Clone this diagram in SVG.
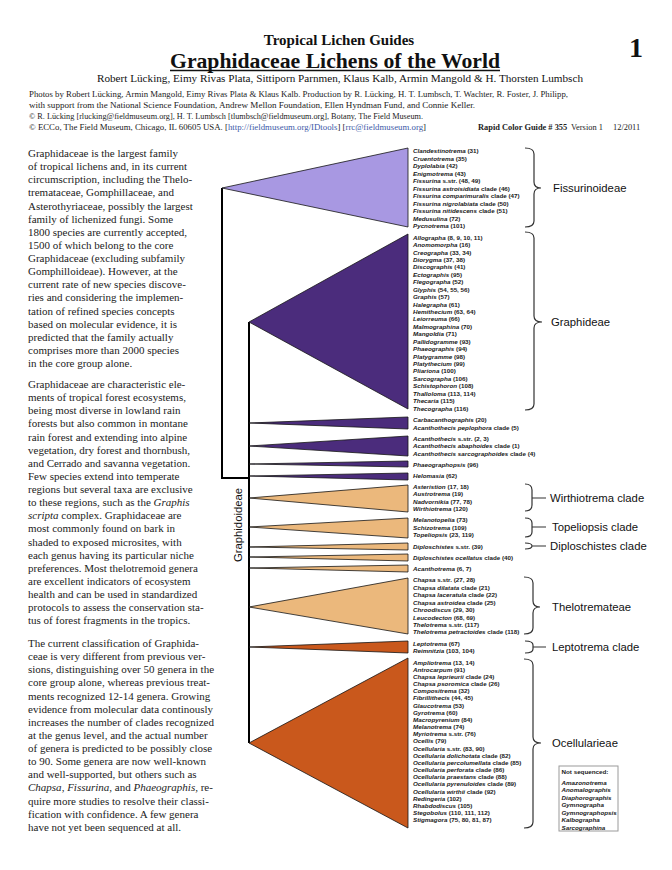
<svg xmlns="http://www.w3.org/2000/svg" width="672" height="870" viewBox="0 0 672 870">
<style>
.hd{font-family:"Liberation Serif","Times New Roman",serif;fill:#111}
.sm{font-family:"Liberation Serif","Times New Roman",serif;font-size:8.4px;fill:#222}
.body{font-family:"Liberation Serif","Times New Roman",serif;font-size:11px;fill:#222}
.g{font-family:"Liberation Sans",Arial,sans-serif;font-size:6.25px;font-weight:bold;fill:#1a1a1a}
.i{font-style:italic}
.cl{font-family:"Liberation Sans",Arial,sans-serif;font-size:11.3px;fill:#111}
.br{fill:none;stroke:#333;stroke-width:1.2}
.tree{stroke:#000;stroke-width:2;fill:none}
.tri{stroke:#151515;stroke-width:0.8;stroke-linejoin:miter}
.lav{fill:#a898e2}
.pur{fill:#4b2c7c}
.lor{fill:#ebb87c}
.dor{fill:#c9581c}
.lnk{fill:#3d5aa8}
</style>
<rect width="672" height="870" fill="#fff"/>

<g id="header">
<text class="hd" x="339" y="45" font-size="15" font-weight="bold" text-anchor="middle">Tropical Lichen Guides</text>
<text class="hd" x="335" y="67.5" font-size="21.6" font-weight="bold" text-anchor="middle" textLength="330" lengthAdjust="spacingAndGlyphs">Graphidaceae Lichens of the World</text>
<line x1="170" y1="70.5" x2="500" y2="70.5" stroke="#111" stroke-width="1.6"/>
<text class="hd" x="629" y="57" font-size="28" font-weight="bold">1</text>
<text class="hd" x="97" y="82" font-size="11.3" textLength="486" lengthAdjust="spacingAndGlyphs">Robert Lücking, Eimy Rivas Plata, Sittiporn Parnmen, Klaus Kalb, Armin Mangold &amp; H. Thorsten Lumbsch</text>
<text class="sm" x="29" y="96.5" textLength="539" lengthAdjust="spacingAndGlyphs">Photos by Robert Lücking, Armin Mangold, Eimy Rivas Plata &amp; Klaus Kalb.  Production by R. Lücking, H. T. Lumbsch, T. Wachter, R. Foster, J. Philipp,</text>
<text class="sm" x="29" y="107.5" textLength="446" lengthAdjust="spacingAndGlyphs">with support from the National Science Foundation, Andrew Mellon Foundation, Ellen Hyndman Fund, and Connie Keller.</text>
<text class="sm" x="29" y="118.5" textLength="394" lengthAdjust="spacingAndGlyphs">© R. Lücking [rlucking@fieldmuseum.org], H. T. Lumbsch [tlumbsch@fieldmuseum.org], Botany, The Field Museum.</text>
<text class="sm" x="29" y="129.5" textLength="397" lengthAdjust="spacingAndGlyphs">© ECCo, The Field Museum, Chicago, IL 60605  USA. [<tspan class="lnk">http://fieldmuseum.org/IDtools</tspan>] [<tspan class="lnk">rrc@fieldmuseum.org</tspan>]</text>
<text class="sm" x="478" y="129.5" font-weight="bold" font-size="8.6">Rapid Color Guide # 355</text>
<text class="sm" x="571" y="129.5">Version 1</text>
<text class="sm" x="613" y="129.5">12/2011</text>
</g>

<g id="intro-text" class="body">
<text>
<tspan x="28" y="157">Graphidaceae is the largest family</tspan>
<tspan x="28" y="170.1">of tropical lichens and, in its current</tspan>
<tspan x="28" y="183.3">circumscription, including the Thelo-</tspan>
<tspan x="28" y="196.4">tremataceae, Gomphillaceae, and</tspan>
<tspan x="28" y="209.5">Asterothyriaceae, possibly the largest</tspan>
<tspan x="28" y="222.7">family of lichenized fungi. Some</tspan>
<tspan x="28" y="235.8">1800 species are currently accepted,</tspan>
<tspan x="28" y="248.9">1500 of which belong to the core</tspan>
<tspan x="28" y="262">Graphidaceae (excluding subfamily</tspan>
<tspan x="28" y="275.2">Gomphilloideae). However, at the</tspan>
<tspan x="28" y="288.3">current rate of new species discove-</tspan>
<tspan x="28" y="301.4">ries and considering the implemen-</tspan>
<tspan x="28" y="314.6">tation of refined species concepts</tspan>
<tspan x="28" y="327.7">based on molecular evidence, it is</tspan>
<tspan x="28" y="340.8">predicted that the family actually</tspan>
<tspan x="28" y="354">comprises more than 2000 species</tspan>
<tspan x="28" y="367.1">in the core group alone.</tspan>
</text>
<text>
<tspan x="28" y="388">Graphidaceae are characteristic ele-</tspan>
<tspan x="28" y="401.1">ments of tropical forest ecosystems,</tspan>
<tspan x="28" y="414.3">being most diverse in lowland rain</tspan>
<tspan x="28" y="427.4">forests but also common in montane</tspan>
<tspan x="28" y="440.5">rain forest and extending into alpine</tspan>
<tspan x="28" y="453.7">vegetation, dry forest and thornbush,</tspan>
<tspan x="28" y="466.8">and Cerrado and savanna vegetation.</tspan>
<tspan x="28" y="479.9">Few species extend into temperate</tspan>
<tspan x="28" y="493">regions but several taxa are exclusive</tspan>
<tspan x="28" y="506.2">to these regions, such as the <tspan class="i">Graphis</tspan></tspan>
<tspan x="28" y="519.3"><tspan class="i">scripta</tspan> complex. Graphidaceae are</tspan>
<tspan x="28" y="532.4">most commonly found on bark in</tspan>
<tspan x="28" y="545.6">shaded to exposed microsites, with</tspan>
<tspan x="28" y="558.7">each genus having its particular niche</tspan>
<tspan x="28" y="571.8">preferences. Most thelotremoid genera</tspan>
<tspan x="28" y="585">are excellent indicators of ecosystem</tspan>
<tspan x="28" y="598.1">health and can be used in standardized</tspan>
<tspan x="28" y="611.2">protocols to assess the conservation sta-</tspan>
<tspan x="28" y="624.3">tus of forest fragments in the tropics.</tspan>
</text>
<text>
<tspan x="28" y="647">The current classification of Graphida-</tspan>
<tspan x="28" y="660.1">ceae is very different from previous ver-</tspan>
<tspan x="28" y="673.3">sions, distinguishing over 50 genera in the</tspan>
<tspan x="28" y="686.4">core group alone, whereas previous treat-</tspan>
<tspan x="28" y="699.5">ments recognized 12-14 genera. Growing</tspan>
<tspan x="28" y="712.7">evidence from molecular data continously</tspan>
<tspan x="28" y="725.8">increases the number of clades recognized</tspan>
<tspan x="28" y="738.9">at the genus level, and the actual number</tspan>
<tspan x="28" y="752">of genera is predicted to be possibly close</tspan>
<tspan x="28" y="765.2">to 90. Some genera are now well-known</tspan>
<tspan x="28" y="778.3">and well-supported, but others such as</tspan>
<tspan x="28" y="791.4"><tspan class="i">Chapsa</tspan>, <tspan class="i">Fissurina</tspan>, and <tspan class="i">Phaeographis</tspan>, re-</tspan>
<tspan x="28" y="804.6">quire more studies to resolve their classi-</tspan>
<tspan x="28" y="817.7">fication with confidence. A few genera</tspan>
<tspan x="28" y="830.8">have not yet been sequenced at all.</tspan>
</text>
</g>

<g id="connectors" class="tree">
<polyline points="222,188 222,478 249,478"/>
<line x1="249" y1="322" x2="249" y2="743"/>
</g>

<g id="graphidoideae-label">
<text class="cl" transform="translate(241.5,525) rotate(-90)" text-anchor="middle" font-size="11.7">Graphidoideae</text>
</g>

<g id="fissurinoideae">
<polygon class="tri lav" points="222,188 408,148 408,227"/>
<g class="g">
<text x="413" y="153"><tspan class="i">Clandestinotrema</tspan> (31)</text>
<text x="413" y="160.5"><tspan class="i">Cruentotrema</tspan> (35)</text>
<text x="413" y="168"><tspan class="i">Dyplolabia</tspan> (42)</text>
<text x="413" y="175.5"><tspan class="i">Enigmotrema</tspan> (43)</text>
<text x="413" y="183"><tspan class="i">Fissurina</tspan> s.str. (48, 49)</text>
<text x="413" y="190.5"><tspan class="i">Fissurina astroisidiata</tspan> clade (46)</text>
<text x="413" y="198"><tspan class="i">Fissurina comparimuralis</tspan> clade (47)</text>
<text x="413" y="205.5"><tspan class="i">Fissurina nigrolabiata</tspan> clade (50)</text>
<text x="413" y="213"><tspan class="i">Fissurina nitidescens</tspan> clade (51)</text>
<text x="413" y="220.5"><tspan class="i">Medusulina</tspan> (72)</text>
<text x="413" y="228"><tspan class="i">Pycnotrema</tspan> (101)</text>
</g>
<path class="br" d="M525,148 Q534,148 534,154 L534,182 Q534,188 541,188 Q534,188 534,194 L534,221 Q534,227 525,227"/>
<text class="cl" x="553" y="192">Fissurinoideae</text>
</g>

<g id="graphideae">
<polygon class="tri pur" points="249,322 408,234 408,409"/>
<g class="g">
<text x="413" y="239.6"><tspan class="i">Allographa</tspan> (8, 9, 10, 11)</text>
<text x="413" y="247"><tspan class="i">Anomomorpha</tspan> (16)</text>
<text x="413" y="254.5"><tspan class="i">Creographa</tspan> (33, 34)</text>
<text x="413" y="261.9"><tspan class="i">Diorygma</tspan> (37, 38)</text>
<text x="413" y="269.3"><tspan class="i">Discographis</tspan> (41)</text>
<text x="413" y="276.8"><tspan class="i">Ectographis</tspan> (95)</text>
<text x="413" y="284.2"><tspan class="i">Flegographa</tspan> (52)</text>
<text x="413" y="291.6"><tspan class="i">Glyphis</tspan> (54, 55, 56)</text>
<text x="413" y="299"><tspan class="i">Graphis</tspan> (57)</text>
<text x="413" y="306.5"><tspan class="i">Halegrapha</tspan> (61)</text>
<text x="413" y="313.9"><tspan class="i">Hemithecium</tspan> (63, 64)</text>
<text x="413" y="321.3"><tspan class="i">Leiorreuma</tspan> (66)</text>
<text x="413" y="328.8"><tspan class="i">Malmographina</tspan> (70)</text>
<text x="413" y="336.2"><tspan class="i">Mangoldia</tspan> (71)</text>
<text x="413" y="343.6"><tspan class="i">Pallidogramme</tspan> (93)</text>
<text x="413" y="351.1"><tspan class="i">Phaeographis</tspan> (94)</text>
<text x="413" y="358.5"><tspan class="i">Platygramme</tspan> (98)</text>
<text x="413" y="365.9"><tspan class="i">Platythecium</tspan> (99)</text>
<text x="413" y="373.3"><tspan class="i">Pliariona</tspan> (100)</text>
<text x="413" y="380.8"><tspan class="i">Sarcographa</tspan> (106)</text>
<text x="413" y="388.2"><tspan class="i">Schistophoron</tspan> (108)</text>
<text x="413" y="395.6"><tspan class="i">Thalloloma</tspan> (113, 114)</text>
<text x="413" y="403.1"><tspan class="i">Thecaria</tspan> (115)</text>
<text x="413" y="410.5"><tspan class="i">Thecographa</tspan> (116)</text>
</g>
<path class="br" d="M525,232 Q534,232 534,238 L534,316 Q534,322 542,322 Q534,322 534,328 L534,404 Q534,410 525,410"/>
<text class="cl" x="551" y="326">Graphideae</text>
</g>

<g id="carbacanthographis">
<polygon class="tri pur" points="249,423 408,417 408,429"/>
<g class="g">
<text x="413" y="422.3"><tspan class="i">Carbacanthographis</tspan> (20)</text>
<text x="413" y="429.7"><tspan class="i">Acanthothecis peplophora</tspan> clade (5)</text>
</g>
</g>

<g id="acanthothecis">
<polygon class="tri pur" points="249,446 408,436 408,456"/>
<g class="g">
<text x="413" y="440.6"><tspan class="i">Acanthothecis</tspan> s.str. (2, 3)</text>
<text x="413" y="448"><tspan class="i">Acanthothecis abaphoides</tspan> clade (1)</text>
<text x="413" y="455.5"><tspan class="i">Acanthothecis sarcographoides</tspan> clade (4)</text>
</g>
</g>

<g id="phaeographopsis">
<polygon class="tri pur" points="249,464 408,461 408,467"/>
<text class="g" x="413" y="466.6"><tspan class="i">Phaeographopsis</tspan> (96)</text>
</g>

<g id="helomasia">
<polygon class="tri pur" points="249,476 408,473 408,480"/>
<text class="g" x="413" y="478"><tspan class="i">Helomasia</tspan> (62)</text>
</g>

<g id="wirthiotrema">
<polygon class="tri lor" points="249,498 408,485 408,512"/>
<g class="g">
<text x="413" y="489"><tspan class="i">Asteristion</tspan> (17, 18)</text>
<text x="413" y="496.4"><tspan class="i">Austrotrema</tspan> (19)</text>
<text x="413" y="503.9"><tspan class="i">Nadvornikia</tspan> (77, 78)</text>
<text x="413" y="511.3"><tspan class="i">Wirthiotrema</tspan> (120)</text>
</g>
<path class="br" d="M525,484 Q532,484 532,490 L532,505 Q532,511 525,511 M532,498 L546,498"/>
<text class="cl" x="550" y="502">Wirthiotrema clade</text>
</g>

<g id="topeliopsis">
<polygon class="tri lor" points="249,527 408,518 408,538"/>
<g class="g">
<text x="413" y="522.3"><tspan class="i">Melanotopelia</tspan> (73)</text>
<text x="413" y="529.7"><tspan class="i">Schizotrema</tspan> (109)</text>
<text x="413" y="537.2"><tspan class="i">Topeliopsis</tspan> (23, 119)</text>
</g>
<path class="br" d="M525,518 Q532,518 532,523 L532,532 Q532,537 525,537 M532,527 L546,527"/>
<text class="cl" x="552" y="531">Topeliopsis clade</text>
</g>

<g id="diploschistes">
<polygon class="tri lor" points="249,547 408,543 408,550"/>
<text class="g" x="413" y="549"><tspan class="i">Diploschistes</tspan> s.str. (39)</text>
<path class="br" d="M525,543 Q532,543 532,546 Q532,549 525,549 M532,546 L546,546"/>
<text class="cl" x="550" y="550">Diploschistes clade</text>
</g>

<g id="diploschistes-ocellatus">
<polygon class="tri lor" points="249,557 408,554 408,561"/>
<text class="g" x="413" y="559.6"><tspan class="i">Diploschistes ocellatus</tspan> clade (40)</text>
</g>

<g id="acanthotrema">
<polygon class="tri lor" points="249,568 408,565 408,572"/>
<text class="g" x="413" y="571.3"><tspan class="i">Acanthotrema</tspan> (6, 7)</text>
</g>

<g id="thelotremateae">
<polygon class="tri lor" points="249,607 408,578 408,634"/>
<g class="g">
<text x="413" y="582.3"><tspan class="i">Chapsa</tspan> s.str. (27, 28)</text>
<text x="413" y="589.7"><tspan class="i">Chapsa dilatata</tspan> clade (21)</text>
<text x="413" y="597.2"><tspan class="i">Chapsa laceratula</tspan> clade (22)</text>
<text x="413" y="604.6"><tspan class="i">Chapsa astroidea</tspan> clade (25)</text>
<text x="413" y="612"><tspan class="i">Chroodiscus</tspan> (29, 30)</text>
<text x="413" y="619.5"><tspan class="i">Leucodecton</tspan> (68, 69)</text>
<text x="413" y="626.9"><tspan class="i">Thelotrema</tspan> s.str. (117)</text>
<text x="413" y="634.3"><tspan class="i">Thelotrema petractoides</tspan> clade (118)</text>
</g>
<path class="br" d="M524,577 Q533,577 533,583 L533,601 Q533,607 540,607 Q533,607 533,613 L533,628 Q533,634 524,634"/>
<text class="cl" x="552" y="611">Thelotremateae</text>
</g>

<g id="leptotrema">
<polygon class="tri dor" points="249,647 408,641 408,653"/>
<g class="g">
<text x="413" y="645.6"><tspan class="i">Leptotrema</tspan> (67)</text>
<text x="413" y="653"><tspan class="i">Reimnitzia</tspan> (103, 104)</text>
</g>
<path class="br" d="M525,641 Q533,641 533,645 L533,649 Q533,653 525,653 M533,647 L546,647"/>
<text class="cl" x="552" y="651">Leptotrema clade</text>
</g>

<g id="ocellularieae">
<polygon class="tri dor" points="249,743 408,658 408,828"/>
<g class="g">
<text x="413" y="664.6"><tspan class="i">Ampliotrema</tspan> (13, 14)</text>
<text x="413" y="671.8"><tspan class="i">Antrocarpum</tspan> (91)</text>
<text x="413" y="678.9"><tspan class="i">Chapsa leprieurii</tspan> clade (24)</text>
<text x="413" y="686.1"><tspan class="i">Chapsa psoromica</tspan> clade (26)</text>
<text x="413" y="693.2"><tspan class="i">Compositrema</tspan> (32)</text>
<text x="413" y="700.4"><tspan class="i">Fibrillithecis</tspan> (44, 45)</text>
<text x="413" y="707.6"><tspan class="i">Glaucotrema</tspan> (53)</text>
<text x="413" y="714.7"><tspan class="i">Gyrotrema</tspan> (60)</text>
<text x="413" y="721.9"><tspan class="i">Macropyrenium</tspan> (84)</text>
<text x="413" y="729"><tspan class="i">Melanotrema</tspan> (74)</text>
<text x="413" y="736.2"><tspan class="i">Myriotrema</tspan> s.str. (76)</text>
<text x="413" y="743.4"><tspan class="i">Ocellis</tspan> (79)</text>
<text x="413" y="750.5"><tspan class="i">Ocellularia</tspan> s.str. (83, 90)</text>
<text x="413" y="757.7"><tspan class="i">Ocellularia dolichotata</tspan> clade (82)</text>
<text x="413" y="764.8"><tspan class="i">Ocellularia percolumellata</tspan> clade (85)</text>
<text x="413" y="772"><tspan class="i">Ocellularia perforata</tspan> clade (86)</text>
<text x="413" y="779.2"><tspan class="i">Ocellularia praestans</tspan> clade (88)</text>
<text x="413" y="786.3"><tspan class="i">Ocellularia pyrenuloides</tspan> clade (89)</text>
<text x="413" y="793.5"><tspan class="i">Ocellularia wirthii</tspan> clade (92)</text>
<text x="413" y="800.6"><tspan class="i">Redingeria</tspan> (102)</text>
<text x="413" y="807.8"><tspan class="i">Rhabdodiscus</tspan> (105)</text>
<text x="413" y="815"><tspan class="i">Stegobolus</tspan> (110, 111, 112)</text>
<text x="413" y="822.1"><tspan class="i">Stigmagora</tspan> (75, 80, 81, 87)</text>
</g>
<path class="br" d="M524,659 Q533,659 533,665 L533,737 Q533,743 541,743 Q533,743 533,749 L533,822 Q533,828 524,828"/>
<text class="cl" x="552" y="747">Ocellularieae</text>
</g>

<g id="not-sequenced">
<rect x="559" y="766" width="59" height="65" fill="#fff" stroke="#9a9a9a" stroke-width="1"/>
<g class="g">
<text x="561.5" y="773.5">Not sequenced:</text>
<text x="561.5" y="784.5" class="i">Amazonotrema</text>
<text x="561.5" y="792" class="i">Anomalographis</text>
<text x="561.5" y="799.5" class="i">Diaphorographis</text>
<text x="561.5" y="807" class="i">Gymnographa</text>
<text x="561.5" y="814.5" class="i">Gymnographopsis</text>
<text x="561.5" y="822" class="i">Kalbographa</text>
<text x="561.5" y="829.5" class="i">Sarcographina</text>
</g>
</g>
</svg>
